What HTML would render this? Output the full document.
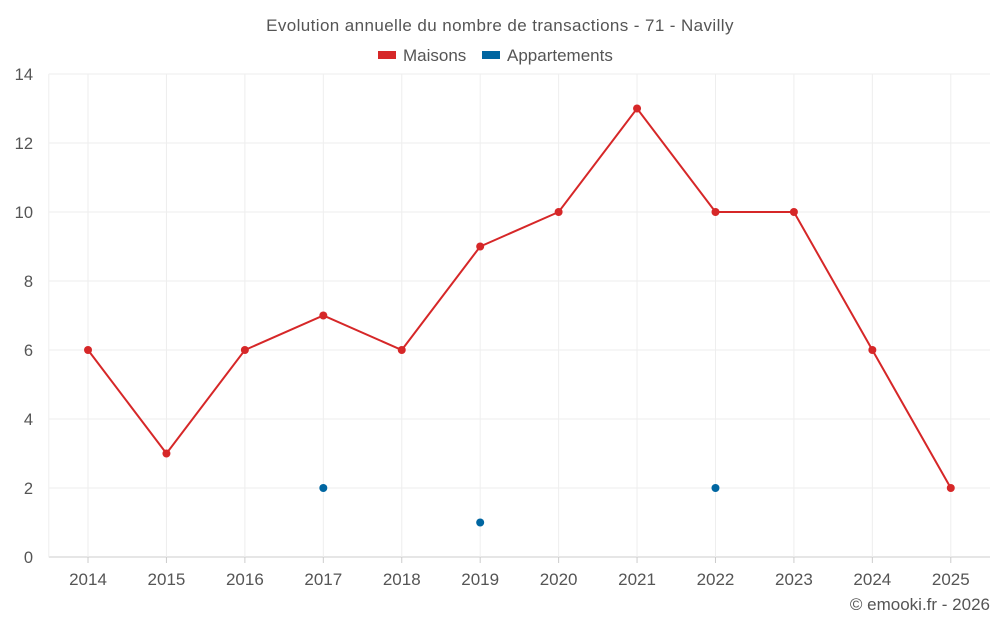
<!DOCTYPE html>
<html><head><meta charset="utf-8"><style>
body{margin:0;background:#fff;font-family:"Liberation Sans",sans-serif;}
svg text{font-family:"Liberation Sans",sans-serif;fill:#555;}
</style></head><body>
<svg id="chart" width="1000" height="625" xmlns="http://www.w3.org/2000/svg">
<text x="500" y="31" text-anchor="middle" font-size="17" letter-spacing="0.4">Evolution annuelle du nombre de transactions - 71 - Navilly</text>
<g>
<g><rect x="378" y="51" width="18" height="8" fill="#d62728"/><text x="403" y="61" font-size="17">Maisons</text></g>
<g><rect x="482" y="51" width="18" height="8" fill="#0066a1"/><text x="507" y="61" font-size="17">Appartements</text></g>
</g>
<g id="grid"></g><g id="axes"></g><g id="series"></g>
<text x="990" y="610" text-anchor="end" font-size="17">© emooki.fr - 2026</text>
</svg>
<script>
const categories=["2014","2015","2016","2017","2018","2019","2020","2021","2022","2023","2024","2025"];
const maisons=[6,3,6,7,6,9,10,13,10,10,6,2];
const appartements=[null,null,null,2,null,1,null,null,2,null,null,null];
const yTicks=[0,2,4,6,8,10,12,14];
const L=48.8,R=990,T=74,B=557,yMax=14;
const bw=(R-L)/categories.length;
const x=i=>L+bw*(i+0.5);
const y=v=>B-(v/yMax)*(B-T);
const NS="http://www.w3.org/2000/svg";
function mk(tag,attrs,parent){const e=document.createElementNS(NS,tag);for(const k in attrs)e.setAttribute(k,attrs[k]);document.getElementById(parent).appendChild(e);return e;}
yTicks.forEach(t=>{
 const g=mk('line',{x1:L,x2:R,y1:y(t),y2:y(t),stroke:t===0?'#ccc':'#eee','stroke-width':1},'grid');
 
 
 const lb=mk('text',{x:33,y:y(t)+6,'text-anchor':'end','font-size':16.5},'axes');lb.textContent=t;
 
 
});
const gl=mk('line',{x1:L,x2:L,y1:T,y2:B,stroke:'#eee'},'grid');


categories.forEach((c,i)=>{
 const g=mk('line',{x1:x(i),x2:x(i),y1:T,y2:B,stroke:'#eee'},'grid');
 
 
 const tk=mk('line',{x1:x(i),x2:x(i),y1:B,y2:B+6,stroke:'#ccc'},'axes');
 
 
 const lb=mk('text',{x:x(i),y:585,'text-anchor':'middle','font-size':17},'axes');lb.textContent=c;
 
 
});
const pts=maisons.map((v,i)=>x(i)+','+y(v)).join(' ');
const pl=mk('polyline',{points:pts,fill:'none',stroke:'#d62728','stroke-width':2},'series');


maisons.forEach((v,i)=>{
 const c=mk('circle',{cx:x(i),cy:y(v),r:4,fill:'#d62728'},'series');
 
 
});
appartements.forEach((v,i)=>{
 if(v===null)return;
 const c=mk('circle',{cx:x(i),cy:y(v),r:4,fill:'#0066a1'},'series');
 
 
});
</script>
</body></html>
